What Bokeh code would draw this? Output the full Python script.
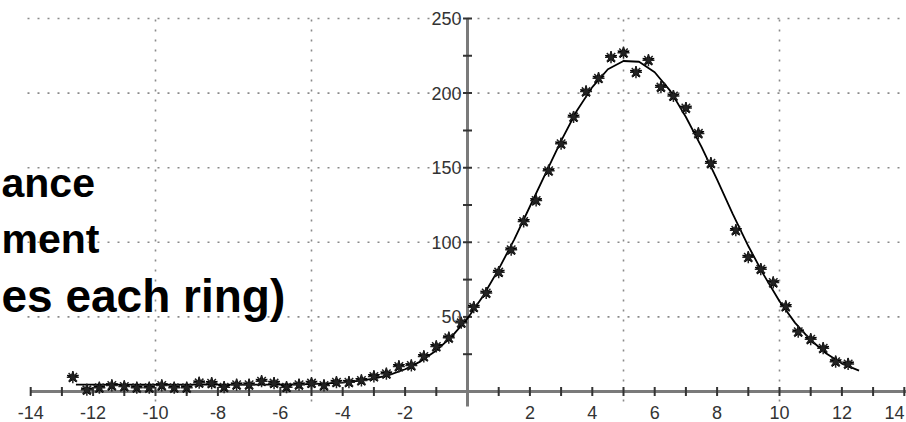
from bokeh.plotting import figure
from bokeh.models import Range1d
from bokeh.core.properties import value
from bokeh.embed import file_html
from bokeh.resources import INLINE

# ---- data ----
data_x = [-12.65, -12.2, -11.8, -11.4, -11.0, -10.6, -10.2, -9.8, -9.4, -9.0, -8.6, -8.2,
          -7.8, -7.4, -7.0, -6.6, -6.2, -5.8, -5.4, -5.0, -4.6, -4.2, -3.8, -3.4, -3.0,
          -2.6, -2.2, -1.8, -1.4, -1.0, -0.6, -0.2, 0.2, 0.6, 1.0, 1.4, 1.8, 2.2, 2.6,
          3.0, 3.4, 3.8, 4.2, 4.6, 5.0, 5.4, 5.8, 6.2, 6.6, 7.0, 7.4, 7.8, 8.6, 9.0,
          9.4, 9.8, 10.2, 10.6, 11.0, 11.4, 11.8, 12.2]
data_y = [9.6, 1.1, 2.5, 4.0, 3.4, 2.5, 2.5, 4.0, 2.5, 2.5, 5.8, 5.5,
          2.9, 4.5, 4.5, 6.9, 5.6, 2.9, 4.5, 5.6, 4.0, 6.2, 6.2, 7.4, 10.1,
          11.9, 16.8, 17.4, 23.5, 30.2, 36, 46, 56.5, 66, 80, 95, 114, 128, 148,
          166, 184, 201, 210, 224, 227, 214, 222, 204, 198, 190, 173, 153, 108, 90,
          82, 73, 57, 40, 35, 29, 20, 18.5]

fit_x = [-12.55, -12, -11, -10, -9, -8, -7, -6, -5, -4.5, -4, -3.5, -3, -2.5, -2, -1.5,
         -1, -0.5, 0, 0.5, 1, 1.5, 2, 2.5, 3, 3.5, 4, 4.5, 5, 5.5, 6, 6.5, 7, 7.5,
         8, 8.5, 9, 9.5, 10, 10.5, 11, 11.5, 12, 12.55]
fit_y = [4.6, 4.6, 4.6, 4.6, 4.6, 4.6, 4.6, 4.7, 5.0, 5.4, 6.0, 7.1, 8.7, 11.2, 14.9, 20.2,
         27.5, 37, 49, 64, 82, 102, 124, 146, 168, 188, 204, 216, 221.5, 221, 214, 201.5, 184, 164,
         142, 119, 97.5, 78, 60.5, 46, 34.5, 25.5, 18.7, 14]

x_ticks = list(range(-14, 15))
x_tick_labels = ["-14", "-12", "-10", "-8", "-6", "-4", "-2", "2", "4", "6", "8", "10", "12"]
x_label_pos = [-14, -12, -10, -8, -6, -4, -2, 2, 4, 6, 8, 10, 12]
x_last_label = ["14"]
y_ticks = [25, 50, 75, 100, 125, 150, 175, 200, 225, 250]
y_tick_labels = ["50", "100", "150", "200", "250"]
y_label_pos = [50, 100, 150, 200, 250]
x_grid = [-10, -5, 5, 10]
y_grid = [50, 100, 150, 200, 250]
title_lines = ["ance", "ment", "es each ring)"]

# ---- layout (pixel mapping) ----
W, H = 906, 422
X0PX, XS = 467.0, 31.2     # pixel of x=0, px per unit
Y0PX, YS = 391.0, 1.492    # pixel of y=0, px per unit

def dx(px):
    return (px - X0PX) / XS

def dy(py):
    return (Y0PX - py) / YS

p = figure(width=W, height=H, output_backend="svg", toolbar_location=None,
           x_range=Range1d(dx(0), dx(W)), y_range=Range1d(dy(H), dy(0)),
           x_axis_type=None, y_axis_type=None, min_border=0)
p.outline_line_color = None
p.background_fill_color = "white"
p.border_fill_color = "white"

# grid
p.segment(x0=[dx(27)] * len(y_grid), y0=y_grid, x1=[dx(W)] * len(y_grid), y1=y_grid,
          line_color="#8a8a8a", line_width=1.6, line_dash="2 8")
p.segment(x0=x_grid, y0=[dy(401)] * len(x_grid), x1=x_grid, y1=[250] * len(x_grid),
          line_color="#8a8a8a", line_width=1.6, line_dash="2 8")

# axes
p.segment(x0=[-14], y0=[0], x1=[dx(W)], y1=[0], line_color="#7a7a7a", line_width=3)
p.segment(x0=[0], y0=[dy(406)], x1=[0], y1=[250], line_color="#7a7a7a", line_width=3)
tx = [t for t in x_ticks if t != 0]
p.segment(x0=tx, y0=[4.5 / YS] * len(tx), x1=tx, y1=[-4.5 / YS] * len(tx),
          line_color="#333333", line_width=2)
p.segment(x0=[-4.5 / XS] * len(y_ticks), y0=y_ticks, x1=[4.5 / XS] * len(y_ticks), y1=y_ticks,
          line_color="#333333", line_width=2)

# fitted curve and data stars
p.line(fit_x, fit_y, line_color="black", line_width=1.8)
p.scatter(data_x, data_y, marker="star", size=12, fill_color="black", line_color="black")
p.scatter(data_x, data_y, marker="asterisk", size=12, line_color="#222222", line_width=1.5)

# tick labels
lab_font = value("Liberation Sans")
p.text(x=x_label_pos, y=[dy(412)] * len(x_label_pos), text=x_tick_labels,
       text_font=lab_font, text_font_size="18px", text_color="#333333",
       text_align="center", text_baseline="middle")
p.text(x=[dx(904)], y=[dy(412)], text=x_last_label,
       text_font=lab_font, text_font_size="18px", text_color="#333333",
       text_align="right", text_baseline="middle")
p.text(x=[dx(461)] * len(y_label_pos), y=y_label_pos, text=y_tick_labels,
       text_font=lab_font, text_font_size="18px", text_color="#333333",
       text_align="right", text_baseline="middle")

# bold text block on the left
p.text(x=[dx(1), dx(1)], y=[dy(182), dy(238)], text=title_lines[:2],
       text_font=lab_font, text_font_style="bold", text_font_size="41px",
       text_color="black", text_align="left", text_baseline="alphabetic")
p.text(x=[dx(1)], y=[dy(295)], text=title_lines[2:],
       text_font=lab_font, text_font_style="bold", text_font_size="46px",
       text_color="black", text_align="left", text_baseline="alphabetic")

open("out.html", "w").write(file_html(p, INLINE))
